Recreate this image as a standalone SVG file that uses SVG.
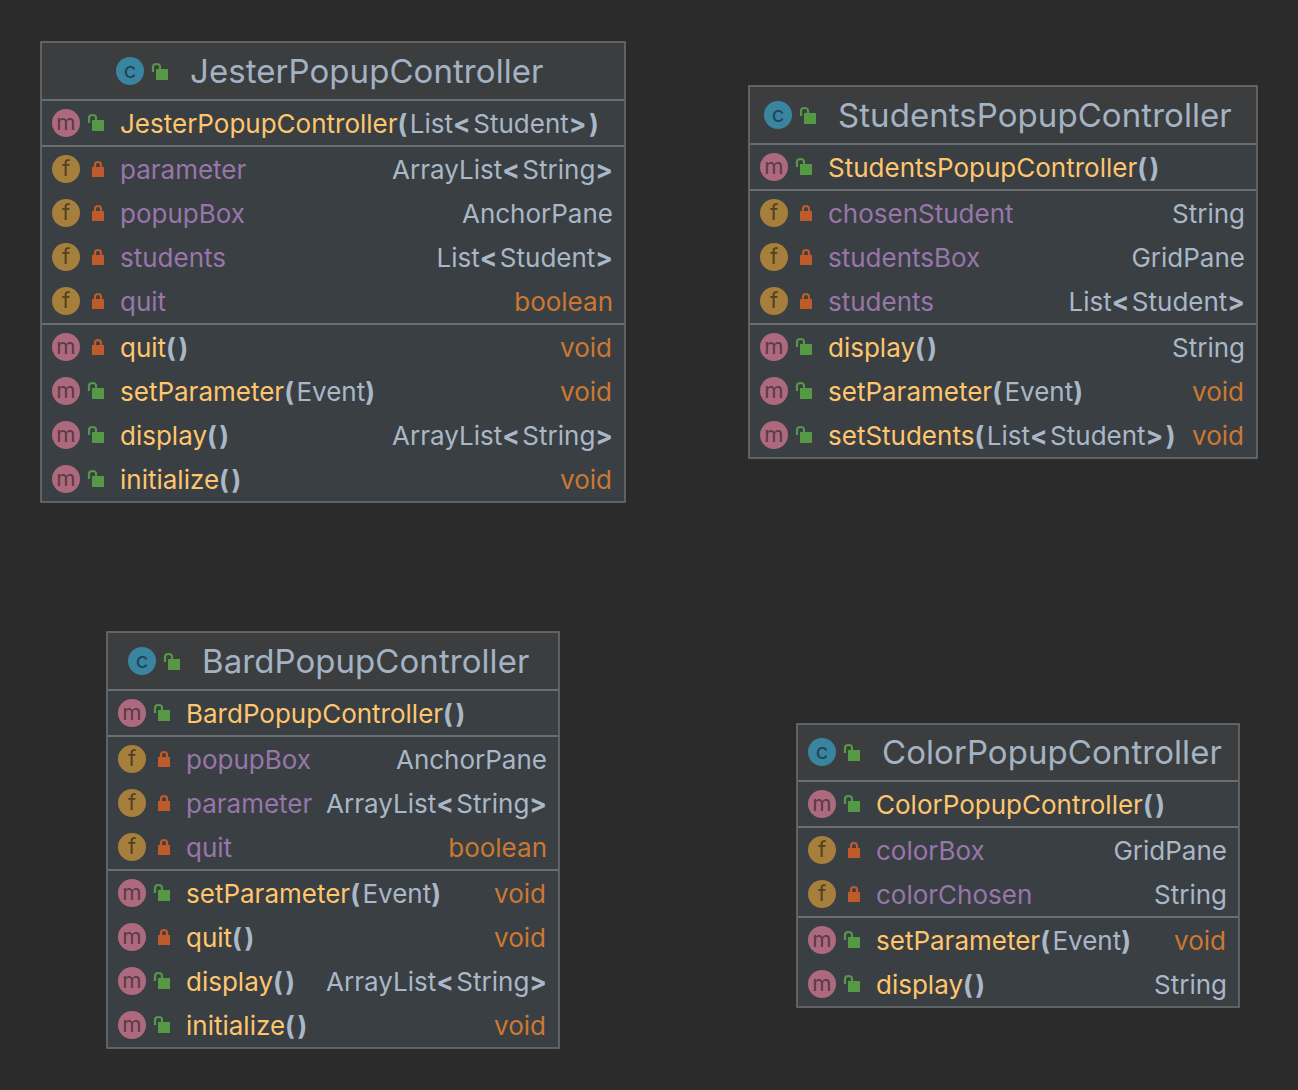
<svg xmlns="http://www.w3.org/2000/svg" width="1298" height="1090" viewBox="0 0 1298 1090">
<style>
text{font-family:Inter,"Liberation Sans",sans-serif;font-size:26px}
.box{fill:#3a3f43;stroke:#6b6e70;stroke-width:1.600}
.head{fill:#3c3d3e}
.sep{stroke:#6b6e70;stroke-width:2.200;fill:none}
.t{font-size:33px;fill:#a3b3c4;letter-spacing:.06px}
.mn{fill:#ffc66d}.fn{fill:#9876aa}.ty{fill:#a9b7c6}.kw{fill:#cc7832}
.mn,.fn,.t{transform:translateX(-2px)}
.r{text-anchor:end}.b{font-weight:700;fill:#a9b7c6;letter-spacing:2.500px}
.rb{transform:translateX(2.500px)}
.bl{font-size:22px;text-anchor:middle}
.cm{fill:#ad697d}.cf{fill:#a67f3d}.cc{fill:#39849f}
.lm{fill:#5c3a44}.lf{fill:#52401f}.lc{fill:#1f4354}
</style>
<defs>
<g id="open"><path d="M-7 -1V-6Q-7 -9 -3.500 -9Q0 -9 0 -6V-4" fill="none" stroke="#559945" stroke-width="2.200"/><rect x="-4" y="-4" width="12" height="11" fill="#559945"/></g>
<g id="lock"><path d="M-1 -2V-4Q-1 -7 2 -7Q5 -7 5 -4V-2" fill="none" stroke="#bf5b2a" stroke-width="2.200"/><rect x="-4" y="-2" width="12" height="10" fill="#bf5b2a"/></g>
</defs>
<rect width="1298" height="1090" fill="#2b2b2b"/>
<g id="connectors"/>

<g id="JesterPopupController">
<rect class="box" x="41" y="42" width="584" height="460"/>
<rect class="head" x="42" y="43" width="582" height="57"/>
<path class="sep" d="M42 100H624M42 146H624M42 324H624"/>
<circle class="cc" cx="130" cy="71" r="14"/><text class="bl lc" x="130" y="78">c</text><use href="#open" x="160" y="73"/>
<text class="t" x="192" y="83">JesterPopupController</text>
<circle class="cm" cx="66" cy="123" r="14"/><text class="bl lm" x="66" y="130">m</text><use href="#open" x="96" y="124"/>
<text class="mn" x="122" y="133">JesterPopupController<tspan class="b">(</tspan><tspan class="ty">List</tspan><tspan class="b">&lt;</tspan><tspan class="ty">Student</tspan><tspan class="b">&gt;)</tspan></text>
<circle class="cf" cx="66" cy="169" r="14"/><text class="bl lf" x="66" y="176">f</text><use href="#lock" x="96" y="169"/>
<text class="fn" x="122" y="179">parameter</text><text class="ty r rb" x="613" y="179">ArrayList<tspan class="b">&lt;</tspan>String<tspan class="b">&gt;</tspan></text>
<circle class="cf" cx="66" cy="213" r="14"/><text class="bl lf" x="66" y="220">f</text><use href="#lock" x="96" y="213"/>
<text class="fn" x="122" y="223">popupBox</text><text class="ty r" x="613" y="223">AnchorPane</text>
<circle class="cf" cx="66" cy="257" r="14"/><text class="bl lf" x="66" y="264">f</text><use href="#lock" x="96" y="257"/>
<text class="fn" x="122" y="267">students</text><text class="ty r rb" x="613" y="267">List<tspan class="b">&lt;</tspan>Student<tspan class="b">&gt;</tspan></text>
<circle class="cf" cx="66" cy="301" r="14"/><text class="bl lf" x="66" y="308">f</text><use href="#lock" x="96" y="301"/>
<text class="fn" x="122" y="311">quit</text><text class="kw r" x="613" y="311">boolean</text>
<circle class="cm" cx="66" cy="347" r="14"/><text class="bl lm" x="66" y="354">m</text><use href="#lock" x="96" y="347"/>
<text class="mn" x="122" y="357">quit<tspan class="b">()</tspan></text><text class="kw r" x="612" y="357">void</text>
<circle class="cm" cx="66" cy="391" r="14"/><text class="bl lm" x="66" y="398">m</text><use href="#open" x="96" y="392"/>
<text class="mn" x="122" y="401">setParameter<tspan class="b">(</tspan><tspan class="ty">Event</tspan><tspan class="b">)</tspan></text><text class="kw r" x="612" y="401">void</text>
<circle class="cm" cx="66" cy="435" r="14"/><text class="bl lm" x="66" y="442">m</text><use href="#open" x="96" y="436"/>
<text class="mn" x="122" y="445">display<tspan class="b">()</tspan></text><text class="ty r rb" x="613" y="445">ArrayList<tspan class="b">&lt;</tspan>String<tspan class="b">&gt;</tspan></text>
<circle class="cm" cx="66" cy="479" r="14"/><text class="bl lm" x="66" y="486">m</text><use href="#open" x="96" y="480"/>
<text class="mn" x="122" y="489">initialize<tspan class="b">()</tspan></text><text class="kw r" x="612" y="489">void</text>
</g>

<g id="StudentsPopupController">
<rect class="box" x="749" y="86" width="508" height="372"/>
<rect class="head" x="750" y="87" width="506" height="57"/>
<path class="sep" d="M750 144H1256M750 190H1256M750 324H1256"/>
<circle class="cc" cx="778" cy="115" r="14"/><text class="bl lc" x="778" y="122">c</text><use href="#open" x="808" y="117"/>
<text class="t" x="840" y="127">StudentsPopupController</text>
<circle class="cm" cx="774" cy="167" r="14"/><text class="bl lm" x="774" y="174">m</text><use href="#open" x="804" y="168"/>
<text class="mn" x="830" y="177">StudentsPopupController<tspan class="b">()</tspan></text>
<circle class="cf" cx="774" cy="213" r="14"/><text class="bl lf" x="774" y="220">f</text><use href="#lock" x="804" y="213"/>
<text class="fn" x="830" y="223">chosenStudent</text><text class="ty r" x="1245" y="223">String</text>
<circle class="cf" cx="774" cy="257" r="14"/><text class="bl lf" x="774" y="264">f</text><use href="#lock" x="804" y="257"/>
<text class="fn" x="830" y="267">studentsBox</text><text class="ty r" x="1245" y="267">GridPane</text>
<circle class="cf" cx="774" cy="301" r="14"/><text class="bl lf" x="774" y="308">f</text><use href="#lock" x="804" y="301"/>
<text class="fn" x="830" y="311">students</text><text class="ty r rb" x="1245" y="311">List<tspan class="b">&lt;</tspan>Student<tspan class="b">&gt;</tspan></text>
<circle class="cm" cx="774" cy="347" r="14"/><text class="bl lm" x="774" y="354">m</text><use href="#open" x="804" y="348"/>
<text class="mn" x="830" y="357">display<tspan class="b">()</tspan></text><text class="ty r" x="1245" y="357">String</text>
<circle class="cm" cx="774" cy="391" r="14"/><text class="bl lm" x="774" y="398">m</text><use href="#open" x="804" y="392"/>
<text class="mn" x="830" y="401">setParameter<tspan class="b">(</tspan><tspan class="ty">Event</tspan><tspan class="b">)</tspan></text><text class="kw r" x="1244" y="401">void</text>
<circle class="cm" cx="774" cy="435" r="14"/><text class="bl lm" x="774" y="442">m</text><use href="#open" x="804" y="436"/>
<text class="mn" x="830" y="445">setStudents<tspan class="b">(</tspan><tspan class="ty">List</tspan><tspan class="b">&lt;</tspan><tspan class="ty">Student</tspan><tspan class="b">&gt;)</tspan></text><text class="kw r" x="1244" y="445">void</text>
</g>

<g id="BardPopupController">
<rect class="box" x="107" y="632" width="452" height="416"/>
<rect class="head" x="108" y="633" width="450" height="57"/>
<path class="sep" d="M108 690H558M108 736H558M108 870H558"/>
<circle class="cc" cx="142" cy="661" r="14"/><text class="bl lc" x="142" y="668">c</text><use href="#open" x="172" y="663"/>
<text class="t" x="204" y="673">BardPopupController</text>
<circle class="cm" cx="132" cy="713" r="14"/><text class="bl lm" x="132" y="720">m</text><use href="#open" x="162" y="714"/>
<text class="mn" x="188" y="723">BardPopupController<tspan class="b">()</tspan></text>
<circle class="cf" cx="132" cy="759" r="14"/><text class="bl lf" x="132" y="766">f</text><use href="#lock" x="162" y="759"/>
<text class="fn" x="188" y="769">popupBox</text><text class="ty r" x="547" y="769">AnchorPane</text>
<circle class="cf" cx="132" cy="803" r="14"/><text class="bl lf" x="132" y="810">f</text><use href="#lock" x="162" y="803"/>
<text class="fn" x="188" y="813">parameter</text><text class="ty r rb" x="547" y="813">ArrayList<tspan class="b">&lt;</tspan>String<tspan class="b">&gt;</tspan></text>
<circle class="cf" cx="132" cy="847" r="14"/><text class="bl lf" x="132" y="854">f</text><use href="#lock" x="162" y="847"/>
<text class="fn" x="188" y="857">quit</text><text class="kw r" x="547" y="857">boolean</text>
<circle class="cm" cx="132" cy="893" r="14"/><text class="bl lm" x="132" y="900">m</text><use href="#open" x="162" y="894"/>
<text class="mn" x="188" y="903">setParameter<tspan class="b">(</tspan><tspan class="ty">Event</tspan><tspan class="b">)</tspan></text><text class="kw r" x="546" y="903">void</text>
<circle class="cm" cx="132" cy="937" r="14"/><text class="bl lm" x="132" y="944">m</text><use href="#lock" x="162" y="937"/>
<text class="mn" x="188" y="947">quit<tspan class="b">()</tspan></text><text class="kw r" x="546" y="947">void</text>
<circle class="cm" cx="132" cy="981" r="14"/><text class="bl lm" x="132" y="988">m</text><use href="#open" x="162" y="982"/>
<text class="mn" x="188" y="991">display<tspan class="b">()</tspan></text><text class="ty r rb" x="547" y="991">ArrayList<tspan class="b">&lt;</tspan>String<tspan class="b">&gt;</tspan></text>
<circle class="cm" cx="132" cy="1025" r="14"/><text class="bl lm" x="132" y="1032">m</text><use href="#open" x="162" y="1026"/>
<text class="mn" x="188" y="1035">initialize<tspan class="b">()</tspan></text><text class="kw r" x="546" y="1035">void</text>
</g>

<g id="ColorPopupController">
<rect class="box" x="797" y="724" width="442" height="283"/>
<rect class="head" x="798" y="725" width="440" height="56"/>
<path class="sep" d="M798 781H1238M798 827H1238M798 917H1238"/>
<circle class="cc" cx="822" cy="752" r="14"/><text class="bl lc" x="822" y="759">c</text><use href="#open" x="852" y="754"/>
<text class="t" x="884" y="764">ColorPopupController</text>
<circle class="cm" cx="822" cy="804" r="14"/><text class="bl lm" x="822" y="811">m</text><use href="#open" x="852" y="805"/>
<text class="mn" x="878" y="814">ColorPopupController<tspan class="b">()</tspan></text>
<circle class="cf" cx="822" cy="850" r="14"/><text class="bl lf" x="822" y="857">f</text><use href="#lock" x="852" y="850"/>
<text class="fn" x="878" y="860">colorBox</text><text class="ty r" x="1227" y="860">GridPane</text>
<circle class="cf" cx="822" cy="894" r="14"/><text class="bl lf" x="822" y="901">f</text><use href="#lock" x="852" y="894"/>
<text class="fn" x="878" y="904">colorChosen</text><text class="ty r" x="1227" y="904">String</text>
<circle class="cm" cx="822" cy="940" r="14"/><text class="bl lm" x="822" y="947">m</text><use href="#open" x="852" y="941"/>
<text class="mn" x="878" y="950">setParameter<tspan class="b">(</tspan><tspan class="ty">Event</tspan><tspan class="b">)</tspan></text><text class="kw r" x="1226" y="950">void</text>
<circle class="cm" cx="822" cy="984" r="14"/><text class="bl lm" x="822" y="991">m</text><use href="#open" x="852" y="985"/>
<text class="mn" x="878" y="994">display<tspan class="b">()</tspan></text><text class="ty r" x="1227" y="994">String</text>
</g>
</svg>
